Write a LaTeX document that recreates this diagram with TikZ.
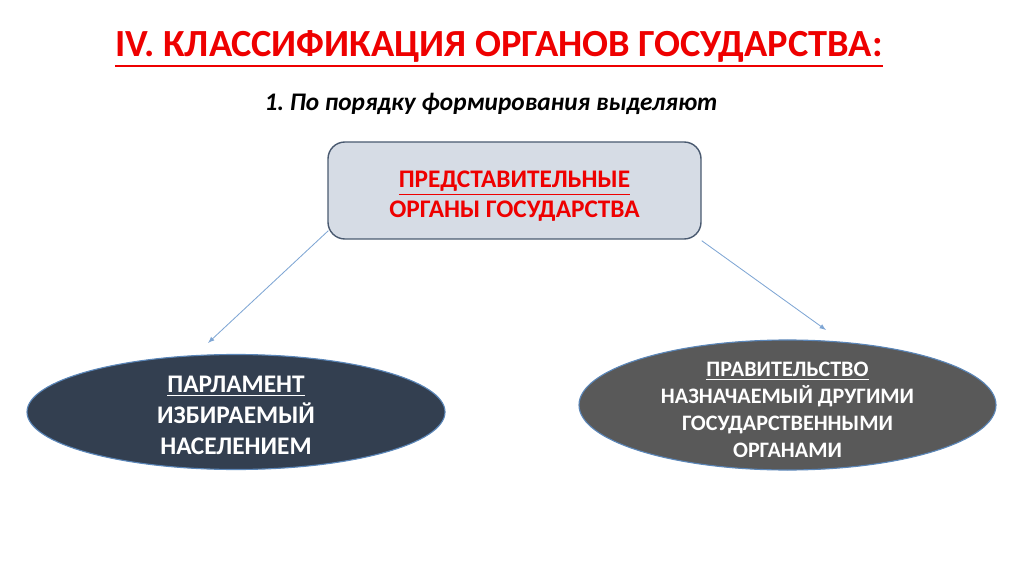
\documentclass[tikz,border=0pt]{standalone}
\usepackage{fontspec}
\setmainfont{Carlito}
\usepackage{xcolor}
\usepackage{tikz}
\usetikzlibrary{positioning,shapes.geometric}

\definecolor{titlered}{HTML}{EE0000}
\definecolor{boxfill}{HTML}{D6DCE5}
\definecolor{boxline}{HTML}{4A5A70}
\definecolor{navyfill}{HTML}{333F50}
\definecolor{grayfill}{HTML}{595959}
\definecolor{ovalline}{HTML}{5B86B8}
\definecolor{arrowblue}{HTML}{7FA6D4}

% underline with a chosen rule thickness
\newcommand{\myul}[2][0.7pt]{\leavevmode\vtop{\hbox{#2}\kern1.6pt\hrule height #1}}

\begin{document}
\begin{tikzpicture}[x=0.025cm,y=-0.025cm,
    topbox/.style={draw=boxline, line width=1pt, fill=boxfill, rounded corners=12pt,
        minimum width=373*0.025cm, minimum height=97*0.025cm, align=center,
        text=titlered, font=\fontsize{18}{21.5}\selectfont\bfseries},
    oval/.style={ellipse, draw=ovalline, line width=0.8pt, inner sep=0pt},
    ovaltext/.style={align=center, text=white, font=\fontsize{18}{22}\selectfont\bfseries},
    link/.style={draw=arrowblue, line width=0.6pt, -latex}]
    \useasboundingbox (0,0) rectangle (1024,576);
    \node[text=titlered, font=\fontsize{27.3}{30}\selectfont\bfseries] (title) at (499,49)
        {\myul[1.5pt]{IV. КЛАССИФИКАЦИЯ ОРГАНОВ ГОСУДАРСТВА:}};
    \node[font=\fontsize{18}{20}\selectfont\bfseries\itshape] (subtitle) at (491,104)
        {1.~По порядку формирования выделяют};
    \node[topbox] (rep) at (514.5,190.5)
        {\rule{0pt}{20pt}\myul{ПРЕДСТАВИТЕЛЬНЫЕ}\\ОРГАНЫ ГОСУДАРСТВА};
    \node[oval, fill=navyfill, minimum width=418*0.025cm, minimum height=115*0.025cm]
        (parl) at (236,412) {};
    \node[ovaltext] (parltext) at (236,415) {\myul{ПАРЛАМЕНТ}\\ИЗБИРАЕМЫЙ\\НАСЕЛЕНИЕМ};
    \node[oval, fill=grayfill, minimum width=417*0.025cm, minimum height=130*0.025cm]
        (gov) at (787.5,405) {};
    \node[ovaltext, font=\fontsize{15.7}{19.2}\selectfont\bfseries] (govtext) at (787.5,410)
        {\myul{ПРАВИТЕЛЬСТВО}\\НАЗНАЧАЕМЫЙ ДРУГИМИ\\ГОСУДАРСТВЕННЫМИ\\ОРГАНАМИ};
    % free ends of the two arrows
    \coordinate (lefttip) at (208,343);
    \coordinate (righttip) at (826,330);
    \draw[link] ([shift={(1,-9)}]rep.south west) -- (lefttip);
    \draw[link] ([shift={(0,1)}]rep.south east) -- (righttip);
\end{tikzpicture}
\end{document}
